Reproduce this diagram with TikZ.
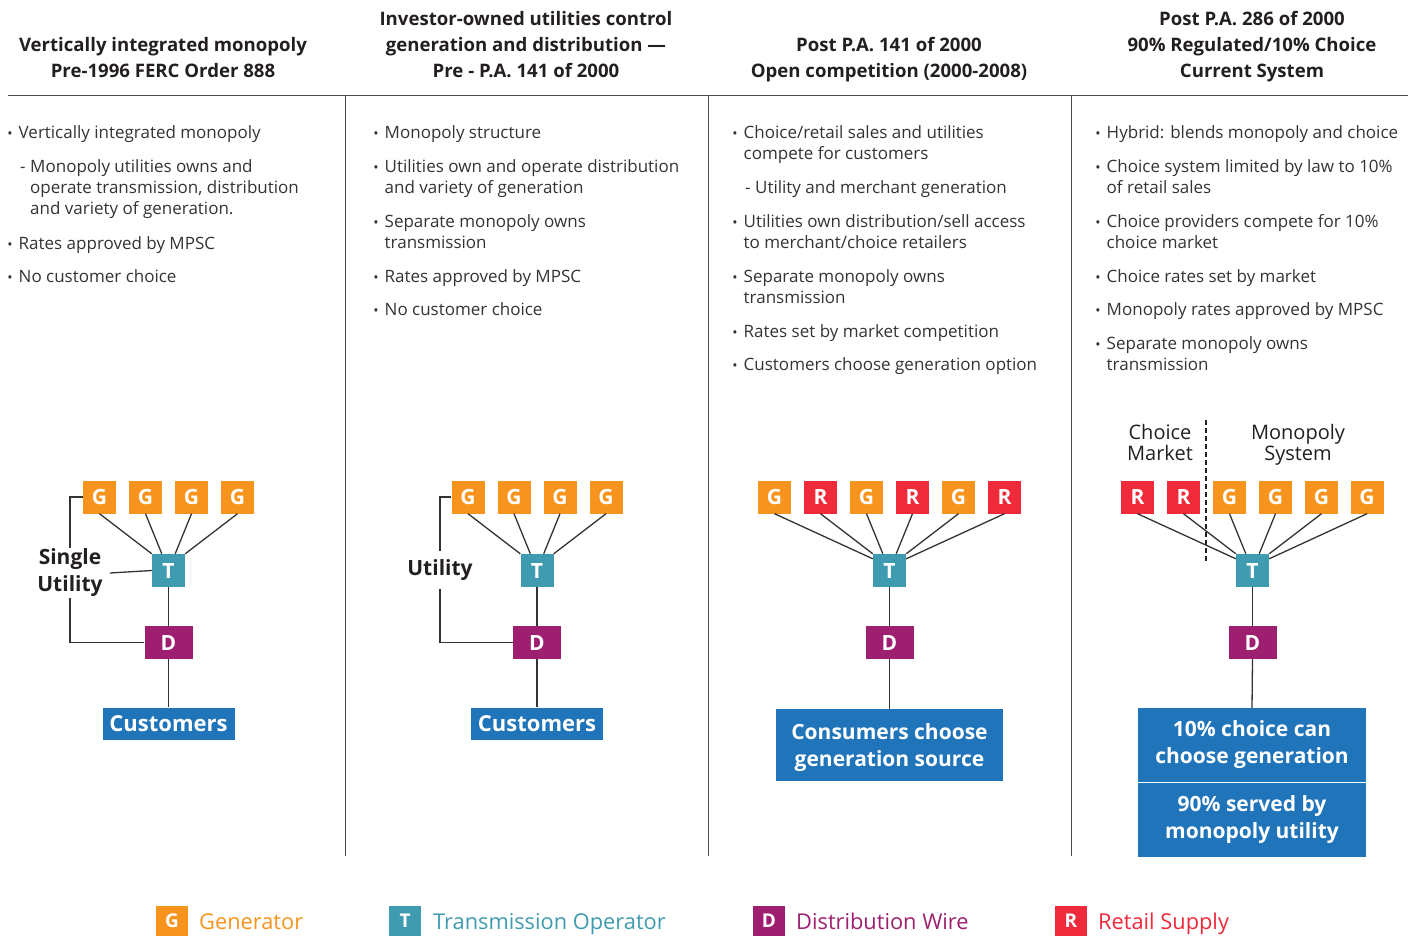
\documentclass[tikz,border=0pt]{standalone}
\usepackage{fontspec}
\setmainfont{Open Sans}
\usetikzlibrary{calc}
\definecolor{cG}{HTML}{F7941D}
\definecolor{cR}{HTML}{EE2A3B}
\definecolor{cT}{HTML}{3F9BAF}
\definecolor{cD}{HTML}{9E1F6F}
\definecolor{cB}{HTML}{1F74BA}
\definecolor{ink}{HTML}{333333}
\definecolor{dark}{HTML}{231F20}
\definecolor{rulec}{HTML}{4A4A4A}
\newcommand\bl[5]{\node[bul] (#1d) at (#2,#4) {\textbullet};
  \node[txt] (#1) at (#3,#4) {\begin{tabular}[t]{@{}l@{}}#5\end{tabular}};}
\newcommand\sbl[5]{\node[txt] (#1d) at (#2,#4) {-};
  \node[txt] (#1) at (#3,#4) {\begin{tabular}[t]{@{}l@{}}#5\end{tabular}};}
\begin{document}
\begin{tikzpicture}[x=1pt,y=-1pt,
  sq/.style={minimum width=33pt,minimum height=33pt,inner sep=0pt,text=white,
    font=\fontsize{21}{24}\selectfont\bfseries},
  gbox/.style={sq,fill=cG},
  rbox/.style={sq,fill=cR},
  tbox/.style={sq,fill=cT},
  dbox/.style={sq,fill=cD,minimum width=48pt},
  lsq/.style={minimum width=32pt,minimum height=31pt,inner sep=0pt,text=white,
    font=\fontsize{19}{22}\selectfont\bfseries},
  ltxt/.style={anchor=base west,inner sep=0pt,font=\fontsize{21.8}{25}\selectfont},
  conn/.style={draw=ink,line width=1.3pt},
  rulel/.style={draw=rulec,line width=1pt},
  hdr/.style={anchor=base,inner sep=0pt,text=dark,font=\fontsize{18.6}{26}\selectfont\bfseries},
  txt/.style={anchor=base west,inner sep=0pt,text=ink,font=\fontsize{17}{21}\selectfont},
  bul/.style={anchor=base,inner sep=0pt,text=ink,font=\fontsize{14}{16}\selectfont},
  blue/.style={fill=cB,text=white,inner sep=0pt,align=center,font=\fontsize{21}{27}\selectfont\bfseries},
  lab/.style={text=dark,align=center,font=\fontsize{21}{27}\selectfont\bfseries},
  mlab/.style={text=dark,anchor=base,inner sep=0pt,font=\fontsize{20}{21}\selectfont}
]
\useasboundingbox (0,0) rectangle (1413,936);

% ---------- frame ----------
\coordinate (hl) at (8,96);
\coordinate (hr) at (1408,96);
\draw[rulel] (hl) -- (hr);
\coordinate (v1t) at (345,96); \coordinate (v1b) at (345,856);
\coordinate (v2t) at (708,96); \coordinate (v2b) at (708,856);
\coordinate (v3t) at (1071,96); \coordinate (v3b) at (1071,856);
\draw[rulel] (v1t) -- (v1b);
\draw[rulel] (v2t) -- (v2b);
\draw[rulel] (v3t) -- (v3b);

% ---------- headers ----------
\node[hdr] (h1) at (163,52) {\begin{tabular}[t]{@{}c@{}}Vertically integrated monopoly\\Pre-1996 FERC Order 888\end{tabular}};
\node[hdr] (h2) at (526,26) {\begin{tabular}[t]{@{}c@{}}Investor-owned utilities control\\generation and distribution ---\\Pre - P.A. 141 of 2000\end{tabular}};
\node[hdr] (h3) at (889,52) {\begin{tabular}[t]{@{}c@{}}Post P.A. 141 of 2000\\Open competition (2000-2008)\end{tabular}};
\node[hdr] (h4) at (1252,26) {\begin{tabular}[t]{@{}c@{}}Post P.A. 286 of 2000\\90\% Regulated/10\% Choice\\Current System\end{tabular}};

% ---------- column 1 text ----------
\bl{a1}{10}{18.5}{139}{Vertically integrated monopoly}
\sbl{a2}{20}{30}{173}{Monopoly utilities owns and\\operate transmission, distribution\\and variety of generation.}
\bl{a3}{10}{18.5}{249}{Rates approved by MPSC}
\bl{a4}{10}{18.5}{282}{No customer choice}

% ---------- column 2 text ----------
\bl{b1}{376}{384.5}{139}{Monopoly structure}
\bl{b2}{376}{384.5}{173}{Utilities own and operate distribution\\and variety of generation}
\bl{b3}{376}{384.5}{227}{Separate monopoly owns\\transmission}
\bl{b4}{376}{384.5}{282}{Rates approved by MPSC}
\bl{b5}{376}{384.5}{315}{No customer choice}

% ---------- column 3 text ----------
\bl{c1}{735}{743.5}{139}{Choice/retail sales and utilities\\compete for customers}
\sbl{c2}{745}{755}{194}{Utility and merchant generation}
\bl{c3}{735}{743.5}{227}{Utilities own distribution/sell access\\to merchant/choice retailers}
\bl{c4}{735}{743.5}{282}{Separate monopoly owns\\transmission}
\bl{c5}{735}{743.5}{337}{Rates set by market competition}
\bl{c6}{735}{743.5}{370}{Customers choose generation option}

% ---------- column 4 text ----------
\bl{d1}{1098}{1106.5}{139}{Hybrid: blends monopoly and choice}
\bl{d2}{1098}{1106.5}{173}{Choice system limited by law to 10\%\\of retail sales}
\bl{d3}{1098}{1106.5}{227}{Choice providers compete for 10\%\\choice market}
\bl{d4}{1098}{1106.5}{282}{Choice rates set by market}
\bl{d5}{1098}{1106.5}{315}{Monopoly rates approved by MPSC}
\bl{d6}{1098}{1106.5}{349}{Separate monopoly owns\\transmission}

% ---------- diagram 1 ----------
\node[gbox] (G11) at (99.5,497) {G};
\node[gbox] (G12) at (145.5,497) {G};
\node[gbox] (G13) at (191.5,497) {G};
\node[gbox] (G14) at (237.5,497) {G};
\node[tbox] (T1) at (168.5,570.5) {T};
\node[dbox] (D1) at (168.5,642.5) {D};
\node[blue,minimum width=132pt,minimum height=32pt,font=\fontsize{22}{26}\selectfont\bfseries] (C1) at (168.5,723.5) {Customers};
\draw[conn] (G11.south) -- (T1.north west);
\draw[conn] (G12.south) -- ($(T1.north west)!0.3!(T1.north east)$);
\draw[conn] (G13.south) -- ($(T1.north west)!0.7!(T1.north east)$);
\draw[conn] (G14.south) -- (T1.north east);
\draw[conn] (T1.south) -- (D1.north);
\draw[conn] (D1.south) -- (C1.north);
\node[lab,inner xsep=7pt,inner ysep=1pt] (U1) at (70,573) {Single\\Utility};
\draw[conn] (G11.west) -| (U1.north);
\draw[conn] (D1.west) -| (U1.south);
\draw[conn] (U1.east) -- (T1.west);

% ---------- diagram 2 ----------
\node[gbox] (G21) at (468,497) {G};
\node[gbox] (G22) at (514,497) {G};
\node[gbox] (G23) at (560,497) {G};
\node[gbox] (G24) at (606,497) {G};
\node[tbox] (T2) at (537,570.5) {T};
\node[dbox] (D2) at (537,642.5) {D};
\node[blue,minimum width=132pt,minimum height=32pt,font=\fontsize{22}{26}\selectfont\bfseries] (C2) at (537,723.5) {Customers};
\draw[conn] (G21.south) -- (T2.north west);
\draw[conn] (G22.south) -- ($(T2.north west)!0.3!(T2.north east)$);
\draw[conn] (G23.south) -- ($(T2.north west)!0.7!(T2.north east)$);
\draw[conn] (G24.south) -- (T2.north east);
\draw[conn] (T2.south) -- (D2.north);
\draw[conn] (D2.south) -- (C2.north);
\node[lab,inner xsep=2pt,inner ysep=8pt] (U2) at (440,570) {Utility};
\draw[conn] (G21.west) -| (U2.north);
\draw[conn] (D2.west) -| (U2.south);

% ---------- diagram 3 ----------
\node[gbox] (G31) at (774.5,497) {G};
\node[rbox] (R32) at (820.5,497) {R};
\node[gbox] (G33) at (866.5,497) {G};
\node[rbox] (R34) at (912.5,497) {R};
\node[gbox] (G35) at (958.5,497) {G};
\node[rbox] (R36) at (1004.5,497) {R};
\node[tbox] (T3) at (889.5,570.5) {T};
\node[dbox] (D3) at (889.5,642.5) {D};
\node[blue,minimum width=227pt,minimum height=72pt,text depth=0pt] (C3) at (889.5,745) {Consumers choose\\generation source};
\draw[conn] (G31.south) -- ($(T3.north west)+(0,5)$);
\draw[conn] (R32.south) -- (T3.north west);
\draw[conn] (G33.south) -- ($(T3.north west)!0.3!(T3.north east)$);
\draw[conn] (R34.south) -- ($(T3.north west)!0.7!(T3.north east)$);
\draw[conn] (G35.south) -- (T3.north east);
\draw[conn] (R36.south) -- ($(T3.north east)+(0,5)$);
\draw[conn] (T3.south) -- (D3.north);
\draw[conn] (D3.south) -- (C3.north);

% ---------- diagram 4 ----------
\node[mlab] (CM) at (1160,439) {\begin{tabular}[t]{@{}c@{}}Choice\\Market\end{tabular}};
\node[mlab] (MS) at (1298,439) {\begin{tabular}[t]{@{}c@{}}Monopoly\\System\end{tabular}};
\coordinate (dt) at (1206,420);
\coordinate (db) at (1206,562);
\draw[draw=dark,line width=1.2pt,dash pattern=on 5pt off 3pt] (dt) -- (db);
\node[rbox] (R41) at (1137.5,497) {R};
\node[rbox] (R42) at (1183.5,497) {R};
\node[gbox] (G43) at (1229.5,497) {G};
\node[gbox] (G44) at (1275.5,497) {G};
\node[gbox] (G45) at (1321.5,497) {G};
\node[gbox] (G46) at (1367,497) {G};
\node[tbox] (T4) at (1252.5,570.5) {T};
\node[dbox] (D4) at (1252.5,642.5) {D};
\node[blue,minimum width=228pt,minimum height=74pt] (C4) at (1252,745) {10\% choice can\\choose generation};
\node[blue,minimum width=228pt,minimum height=74pt] (C5) at (1252,820) {90\% served by\\monopoly utility};
\draw[conn] (R41.south) -- ($(T4.north west)+(0,5)$);
\draw[conn] (R42.south) -- (T4.north west);
\draw[conn] (G43.south) -- ($(T4.north west)!0.3!(T4.north east)$);
\draw[conn] (G44.south) -- ($(T4.north west)!0.7!(T4.north east)$);
\draw[conn] (G45.south) -- (T4.north east);
\draw[conn] (G46.south) -- ($(T4.north east)+(0,5)$);
\draw[conn] (T4.south) -- (D4.north);
\draw[conn] (D4.south) -- (C4.north);

% ---------- legend ----------
\node[lsq,fill=cG] (LG) at (172,921) {G};
\node[ltxt,text=cG] (LGt) at (199,929) {Generator};
\node[lsq,fill=cT] (LT) at (405,921) {T};
\node[ltxt,text=cT] (LTt) at (433,929) {Transmission Operator};
\node[lsq,fill=cD] (LD) at (769,921) {D};
\node[ltxt,text=cD] (LDt) at (796,929) {Distribution Wire};
\node[lsq,fill=cR] (LR) at (1071,921) {R};
\node[ltxt,text=cR] (LRt) at (1098,929) {Retail Supply};
\end{tikzpicture}
\end{document}
